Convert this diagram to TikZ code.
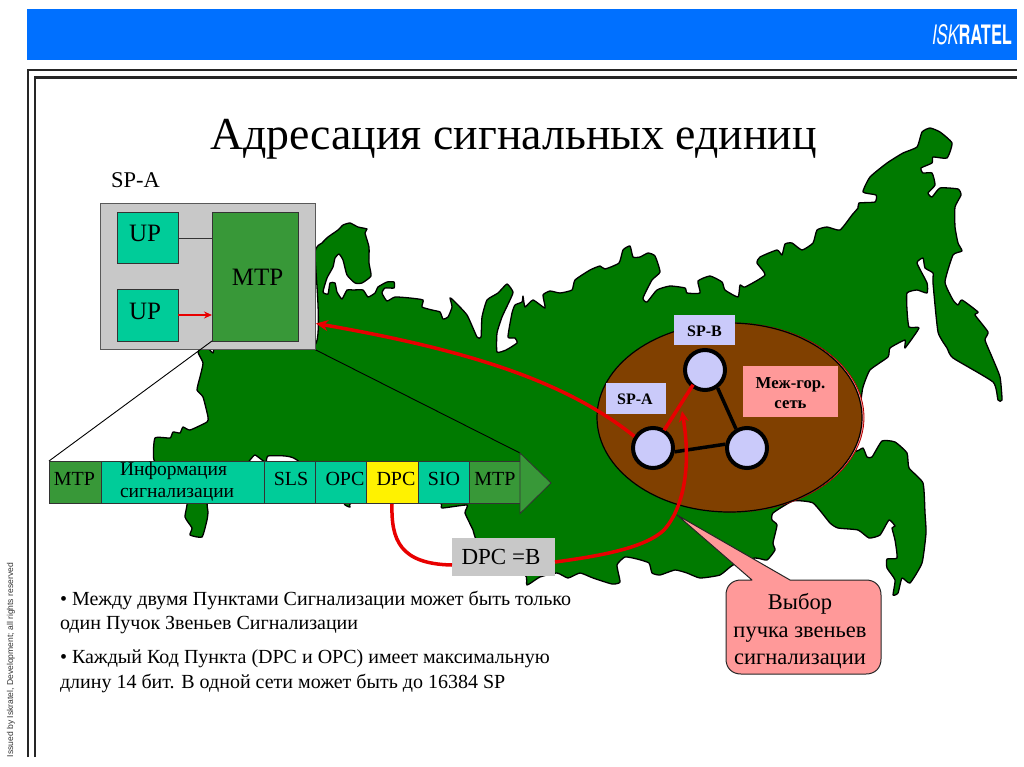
\documentclass[tikz,border=0pt]{standalone}
\usepackage{fontspec}
\setmainfont{Liberation Serif}
\newfontfamily\arialfont{Liberation Sans}
\newfontfamily\heros{TeX Gyre Heros}
\usetikzlibrary{arrows.meta,shapes.geometric}
\newcommand\pxf[2]{\fontsize{#1}{#2}\selectfont}
\definecolor{mapgreen}{HTML}{007A00}
\definecolor{midgreen}{HTML}{389838}
\definecolor{teal}{HTML}{00CC99}
\definecolor{boxgray}{HTML}{C8C8C8}
\definecolor{bluebar}{HTML}{0070FF}
\definecolor{lav}{HTML}{CACAFA}
\definecolor{pinkish}{HTML}{FF9999}
\definecolor{brownish}{HTML}{804000}
\definecolor{redline}{HTML}{E80000}
\tikzset{
  cell/.style={draw=black!80,line width=.8pt,inner sep=0pt,anchor=north west,font=\pxf{20}{24}},
  tealcell/.style={cell,fill=teal},
  greencell/.style={cell,fill=midgreen},
  spnode/.style={circle,draw=black,line width=4pt,fill=lav,minimum size=40pt,inner sep=0pt},
  taglabel/.style={inner sep=0pt,anchor=north west},
  redthick/.style={draw=redline,line width=3.5pt},
  blacklink/.style={draw=black,line width=3.5pt},
  plain/.style={inner sep=0pt,outer sep=0pt},
  frameline/.style={draw=black!85,line width=2.2pt}
}
\begin{document}
\begin{tikzpicture}[x=1pt,y=-1pt]
\useasboundingbox (0,0) rectangle (1024,767);
\fill[white] (0,0) rectangle (1024,767);
% header and frame
\fill[bluebar] (27,9) rectangle (1017,60.5);
\node[plain,text=white,anchor=north west] (logo) at (932,25) {\resizebox{80pt}{20pt}{\heros{\itshape ISK}\bfseries RATEL}};
\draw[frameline] (28,757) -- (28,70) -- (1017,70);
\draw[frameline] (35,757) -- (35,77.5) -- (1017,77.5);
\node[plain,rotate=90,anchor=west,font=\arialfont\pxf{8.55}{10},text=black!80] (issued) at (11,757) {Issued by Iskratel, Development; all rights reserved};
% map
\draw[draw=black,line width=1.3pt,fill=mapgreen,line join=round]
 plot[smooth cycle,tension=0.3] coordinates {
 (315,253)(322,243)(328,237)(338,230)(343,225)(350,223)(358,227)(367,229)(365,233)(369,247)(369,263)(371,276)(362,283)(355,283)(347,275)(343,260)(339,254)(335,258)(333,267)(327,278)(323,292)(328,294)(330,283)(335,283)(337,292)(342,299)(347,290)(353,290)(363,290)(368,297)(375,293)(378,287)(387,282)(394,282)(394,288)(385,288)(382,293)(387,301)(395,297)(410,298)(423,300)(422,307)(432,310)(440,312)(443,319)(448,317)(452,307)(450,298)(453,300)(467,315)(477,337)(481,337)(482,317)(487,300)(498,293)(507,284)(513,292)(510,300)(502,317)(497,333)(497,352)(506,350)(517,343)(515,338)(508,337)(512,313)(515,305)(522,302)(523,296)(525,307)(533,300)(545,308)(543,295)(550,291)(560,293)(572,290)(575,280)(590,270)(600,266)(605,269)(619,263)(623,250)(630,246)(633,257)(640,257)(648,253)(655,256)(660,272)(652,280)(643,298)(647,302)(657,290)(670,286)(685,288)(687,293)(700,293)(698,281)(710,276)(722,282)(725,290)(738,297)(740,285)(745,287)(765,275)(757,263)(760,257)(777,250)(782,255)(785,244)(792,243)(802,250)(813,243)(817,230)(827,227)(840,230)(852,215)(858,208)(859,203)(875,202)(876,195)(863,192)(870,177)(887,163)(903,153)(917,147)(922,132)(930,128)(940,132)(952,143)(947,158)(933,157)(932,163)(921,168)(923,173)(932,173)(935,185)(928,193)(932,197)(940,188)(958,189)(961,195)(955,207)(955,227)(958,243)(962,251)(953,255)(945,282)(953,300)(958,305)(962,300)(978,312)(975,315)(988,332)(985,340)(992,357)(1000,377)(1002,400)(998,400)(993,382)(953,358)(947,348)(938,332)(933,283)(933,273)(925,268)(923,258)(917,263)(927,283)(927,293)(917,290)(907,293)(907,310)(909,327)(919,328)(905,348)(905,340)(890,348)(888,357)(870,370)(863,387)(861,400)(855,450)(863,448)(867,457)(872,457)(882,441)(895,442)(907,453)(909,468)(923,483)(925,513)(926,533)(922,563)(910,583)(902,578)(898,593)(893,595)(895,580)(887,568)(887,559)(897,558)(895,540)(892,528)(895,526)(889,520)(880,535)(869,538)(858,530)(838,528)(830,523)(813,503)(793,501)(773,513)(772,520)(777,525)(773,543)(775,550)(767,560)(755,558)(733,565)(720,575)(700,578)(687,573)(675,570)(660,575)(652,573)(649,563)(637,559)(625,557)(617,565)(620,582)(612,584)(593,578)(580,573)(568,578)(557,573)(540,577)(527,585)(525,575)(490,570)(475,537)(473,530)(465,513)(467,505)(442,508)(440,503)(400,498)(352,503)(350,507)(345,505)(340,498)(297,460)(285,456)(268,456)(266,462)(262,460)(255,455)(250,460)(235,480)(208,500)(208,512)(207,520)(202,537)(190,535)(192,528)(185,517)(187,500)(170,480)(154,460)(155,438)(170,438)(173,432)(180,433)(183,427)(190,430)(207,422)(208,417)(203,397)(197,390)(200,377)(203,363)(198,352)(205,345)(213,353)(220,345)(315,345)
 };
% ellipses
\draw[fill=pinkish,draw=red!70!black,line width=.8pt] (731.5,417.5) ellipse[x radius=132.5,y radius=94.5];
\node[ellipse,draw=black,line width=1.2pt,fill=brownish,minimum width=265pt,minimum height=189pt,inner sep=0pt] (netarea) at (729.5,417.5) {};
% SP-A block
\draw[draw=black,line width=.9pt] (298,341) -- (520,453);
\node[draw=black!65,line width=1pt,fill=boxgray,plain,anchor=north west,minimum width=215pt,minimum height=145.5pt] (spbox) at (100.5,203.5) {};
\node[plain,anchor=west,font=\pxf{22.5}{26}] (spalabel) at (111,180) {SP-A};
\node[draw=black!80,line width=.8pt,fill=teal,plain,anchor=north west,minimum width=61pt,minimum height=51pt] (up1) at (117,212) {};
\node[plain,font=\pxf{25}{30}] (up1t) at (145,233) {UP};
\node[draw=black!80,line width=.8pt,fill=teal,plain,anchor=north west,minimum width=61pt,minimum height=52pt] (up2) at (117,289) {};
\node[plain,font=\pxf{25}{30}] (up2t) at (145,311) {UP};
\node[draw=black!80,line width=.8pt,fill=midgreen,plain,anchor=north west,minimum width=86pt,minimum height=129pt] (mtp) at (212,212) {};
\node[plain,font=\pxf{25}{30}] (mtpt) at (257.5,277) {MTP};
\draw[draw=black!80,line width=.8pt] (up1.east |- 0,238) -- (mtp.west |- 0,238);
\draw[draw=redline,line width=1.5pt,-{Stealth[length=8pt,width=7pt]}] (up2.east |- 0,315) -- (mtp.west |- 0,315);
\draw[draw=black,line width=.9pt] (mtp.south west) -- (49,461);
% signal unit bar
\node[greencell,minimum width=52pt,minimum height=42.5pt] (c1) at (49,460.5) {};
\node[tealcell,minimum width=162.5pt,minimum height=42.5pt] (c2) at (101,460.5) {};
\node[tealcell,minimum width=51.5pt,minimum height=42.5pt] (c3) at (263.5,460.5) {};
\node[tealcell,minimum width=51pt,minimum height=42.5pt] (c4) at (315,460.5) {};
\node[cell,fill=yellow,minimum width=52pt,minimum height=42.5pt] (c5) at (366,460.5) {};
\node[tealcell,minimum width=51pt,minimum height=42.5pt] (c6) at (418,460.5) {};
\node[greencell,minimum width=51pt,minimum height=42.5pt] (c7) at (469,460.5) {};
\draw[draw=black!80,line width=.8pt,fill=midgreen,line join=miter] (520,453) -- (551,483) -- (520,513.5) -- cycle;
\node[plain,font=\pxf{20}{24}] (t1) at (74.5,478.5) {MTP};
\node[plain,font=\pxf{19.5}{24},anchor=west] (t2a) at (120,471) {Информация};
\node[plain,font=\pxf{19.5}{24},anchor=west] (t2b) at (120,495) {сигнализации};
\node[plain,font=\pxf{20}{24}] (t3) at (291,478.5) {SLS};
\node[plain,font=\pxf{20}{24}] (t4) at (345,478.5) {OPC};
\node[plain,font=\pxf{20}{24}] (t5) at (396,478.5) {DPC};
\node[plain,font=\pxf{20}{24}] (t6) at (444,478.5) {SIO};
\node[plain,font=\pxf{20}{24}] (t7) at (495,478.5) {MTP};
% network
\node[spnode] (nA) at (653,448) {};
\node[spnode] (nB) at (705,370) {};
\node[spnode] (nC) at (747,448) {};
\draw[blacklink] (nA.-10) -- (nC.170);
\draw[blacklink] (nB.-55) -- (nC.120);
\draw[redthick,shorten <=-1pt,shorten >=-3pt] (nA.58) -- (nB.232);
\node[taglabel,fill=lav,minimum width=61pt,minimum height=30pt] (tagB) at (674,315) {};
\node[plain,font=\pxf{16}{24}\bfseries] (tagBt) at (704.5,331) {SP-B};
\node[taglabel,fill=lav,minimum width=60pt,minimum height=31pt] (tagA) at (606,383) {};
\node[plain,font=\pxf{16}{24}\bfseries] (tagAt) at (635,399) {SP-A};
\node[fill=pinkish,plain,anchor=north west,minimum width=95pt,minimum height=51pt] (tagM) at (743,366) {};
\node[plain,font=\pxf{16.7}{20}\bfseries,align=center] (tagMt) at (790.5,393) {Меж-гор.\\сеть};
% red routes
\coordinate (mtpIn) at (316,323.5);
\draw[redline,line width=3.5pt,-{Stealth[length=12pt,width=11pt]}] (nA.148) .. controls (570,385) and (480,352) .. (mtpIn);
% callout
\draw[draw=black!85,line width=1pt,fill=pinkish,line join=round] (677,515) -- (790,580) -- (866,580) .. controls (875,580) and (881,586) .. (881,595) -- (881,659) .. controls (881,668) and (875,674) .. (866,674) -- (741,674) .. controls (732,674) and (726,668) .. (726,659) -- (726,595) .. controls (726,586) and (732,580) .. (741,580) -- (752,580) -- cycle;
\node[plain,font=\pxf{22.5}{27.5},align=center] (call) at (800,631.5) {Выбор\\пучка звеньев\\сигнализации};
% DPC route
\node[fill=boxgray,plain,anchor=north west,minimum width=103pt,minimum height=38pt] (dpcbox) at (452,537.5) {};
\node[plain,font=\pxf{23}{28}] (dpct) at (501,557) {DPC =B};
\draw[redline,line width=3.5pt] (c5.south -| 392,0) .. controls (391,540) and (400,564) .. (dpcbox.west |- 0,565);
\draw[redline,line width=3.5pt,-{Stealth[length=11pt,width=10pt]}] (dpcbox.east |- 0,562) .. controls (600,556) and (645,548) .. (664,530) .. controls (682,510) and (692,470) .. (682,411);
% text
\node[plain,anchor=north west,align=left,font=\pxf{20}{24}] (para1) at (60,591) {• Между двумя Пунктами Сигнализации может быть только\\один Пучок Звеньев Сигнализации};
\node[plain,anchor=north west,align=left,font=\pxf{20}{25}] (para2) at (60,650) {• Каждый Код Пункта (DPC и OPC) имеет максимальную\\длину 14 бит. В одной сети может быть до 16384 SP};
% title
\node[plain,anchor=west,font=\pxf{45.8}{52}] (title) at (210,139) {Адресация сигнальных единиц};
\end{tikzpicture}
\end{document}
